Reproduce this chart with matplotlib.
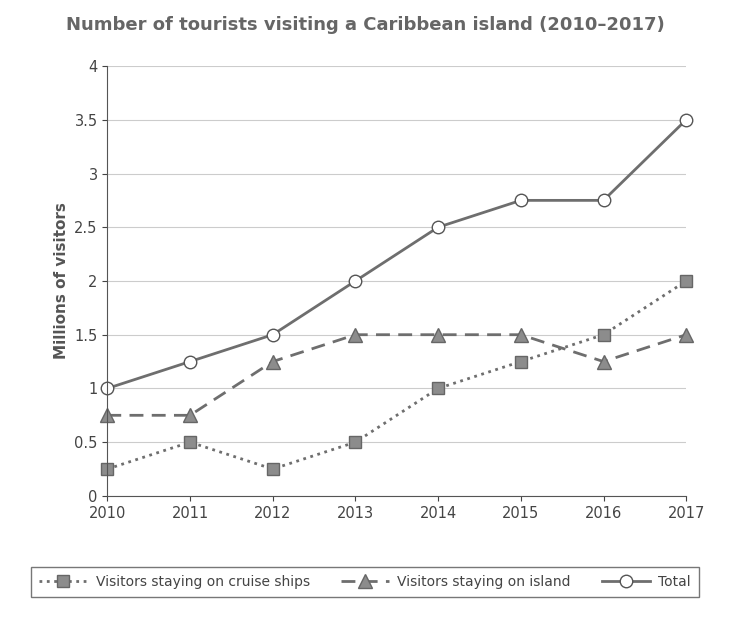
import matplotlib.pyplot as plt

years = [2010, 2011, 2012, 2013, 2014, 2015, 2016, 2017]
cruise = [0.25, 0.5, 0.25, 0.5, 1.0, 1.25, 1.5, 2.0]
island = [0.75, 0.75, 1.25, 1.5, 1.5, 1.5, 1.25, 1.5]
total = [1.0, 1.25, 1.5, 2.0, 2.5, 2.75, 2.75, 3.5]

fig = plt.figure(figsize=(7.30, 6.23), dpi=100)
ax = fig.add_axes([0.147, 0.204, 0.793, 0.69])

lc = '#6e6e6e'
ax.plot(years, cruise, ':', color=lc, lw=2, marker='s', ms=9, mfc='#8c8c8c', mec='#666666',
        clip_on=False, label='Visitors staying on cruise ships')
ax.plot(years, island, '--', color=lc, lw=2, marker='^', ms=10, mfc='#8c8c8c', mec='#666666',
        dashes=(5, 3), clip_on=False, label='Visitors staying on island')
ax.plot(years, total, '-', color=lc, lw=2, marker='o', ms=9, mfc='white', mec='#555555',
        clip_on=False, label='Total')

ax.set_xlim(2010, 2017)
ax.set_ylim(0, 4)
ax.set_yticks([0, 0.5, 1, 1.5, 2, 2.5, 3, 3.5, 4])
ax.set_yticklabels(['0', '0.5', '1', '1.5', '2', '2.5', '3', '3.5', '4'])
ax.set_xticks(years)
ax.grid(axis='y', color='#cccccc', lw=0.8)
ax.set_axisbelow(True)
for s in ['top', 'right']:
    ax.spines[s].set_visible(False)
ax.spines['left'].set_color('#555555')
ax.spines['bottom'].set_color('#555555')
ax.tick_params(colors='#444444', labelsize=10.5)
ax.set_ylabel('Millions of visitors', fontsize=11, fontweight='bold', color='#555555')

fig.suptitle('Number of tourists visiting a Caribbean island (2010\u20132017)',
             x=0.5, y=0.975, fontsize=13, fontweight='bold', color='#666666')

leg = fig.legend(loc='center', bbox_to_anchor=(0.5, 0.066), ncol=3, fontsize=10,
                 frameon=True, fancybox=False, edgecolor='#555555', handlelength=3.5,
                 columnspacing=2.2, handletextpad=0.6, borderpad=0.6)
for t in leg.get_texts():
    t.set_color('#444444')

fig.savefig('out.png', dpi=100)
